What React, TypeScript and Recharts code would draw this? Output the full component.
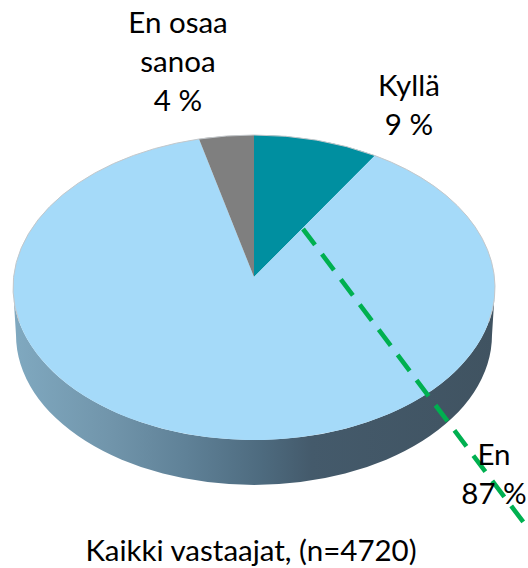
import { Pie, PieChart } from "recharts";

const categories = ["Kyllä", "En", "En osaa sanoa"];
const shares = [9, 87, 4];
const sliceColors = ["#008fa0", "#a5daf9", "#7f7f7f"];
const labelLines = [["Kyllä"], ["En"], ["En osaa", "sanoa"]];
const title = "Kaikki vastaajat, (n=4720)";

const pieData = categories.map((name, i) => ({ name, value: shares[i], fill: sliceColors[i] }));

// hand placed like in the original slide
const labelBoxes = [
  { x: 409, y: 96 },
  { x: 494, y: 465 },
  { x: 178, y: 33 },
];

const SQUASH = 152.5 / 241;
const APEX_LIFT = 10.5;
const DEPTH = 47.5;
const BOTTOM_RX_DIFF = 3;
const PERSPECTIVE = 2.5; // back slices look narrower than their true angle
const FONT = "Lato, 'Open Sans', sans-serif";

function pt(cx: number, cy: number, rx: number, ry: number, deg: number) {
  const fromTop = ((90 - deg) * Math.PI) / 180;
  const a = ((deg + PERSPECTIVE * Math.sin(2 * fromTop)) * Math.PI) / 180;
  return [cx + rx * Math.cos(a), cy - ry * Math.sin(a)];
}

function overlap(start: number, end: number, from: number, to: number) {
  const a = Math.min(start, from);
  const b = Math.max(end, to);
  return a > b ? [a, b] : null;
}

function TopSlice(props: any) {
  const { cx, cy, outerRadius: rx, startAngle, endAngle, fill } = props;
  const ry = rx * SQUASH;
  const [x1, y1] = pt(cx, cy, rx, ry, startAngle);
  const [x2, y2] = pt(cx, cy, rx, ry, endAngle);
  const large = startAngle - endAngle > 180 ? 1 : 0;
  const rims = [overlap(startAngle, endAngle, 90, -12), overlap(startAngle, endAngle, -168, -270)];
  return (
    <g>
      <path d={`M${cx},${cy - APEX_LIFT}L${x1},${y1}A${rx},${ry} 0 ${large} 1 ${x2},${y2}Z`} fill={fill} />
      {rims.map((r, i) => {
        if (!r) return null;
        const [ax, ay] = pt(cx, cy, rx, ry, r[0]);
        const [bx, by] = pt(cx, cy, rx, ry, r[1]);
        return <path key={i} d={`M${ax},${ay}A${rx},${ry} 0 0 1 ${bx},${by}`} fill="none" stroke="#c4c8cb" strokeWidth={1} />;
      })}
    </g>
  );
}

function WallSlice(props: any) {
  const { cx, cy, outerRadius: rx, startAngle, endAngle } = props;
  const front = overlap(startAngle, endAngle, 0, -180);
  if (!front) return null;
  const ry = rx * SQUASH;
  const rx2 = rx - BOTTOM_RX_DIFF;
  const ry2 = ry - 2.5;
  const [x1, y1] = pt(cx, cy, rx, ry, front[0]);
  const [x2, y2] = pt(cx, cy, rx, ry, front[1]);
  const [x3, y3] = pt(cx, cy + DEPTH, rx2, ry2, front[1]);
  const [x4, y4] = pt(cx, cy + DEPTH, rx2, ry2, front[0]);
  return (
    <path
      d={`M${x1},${y1}A${rx},${ry} 0 0 1 ${x2},${y2}L${x3},${y3}A${rx2},${ry2} 0 0 0 ${x4},${y4}Z`}
      fill="url(#wallShade)"
    />
  );
}

function SliceLabel(props: any) {
  const { index, value } = props;
  const box = labelBoxes[index];
  const lines = [...labelLines[index], `${value} %`];
  return (
    <g>
      {/* the green dashes sit over the pie but under the En label, so they go with the first label */}
      {index === 0 && (
        <line x1={303} y1={229} x2={524} y2={523} stroke="#00b050" strokeWidth={4.6} strokeDasharray="20 11.5" />
      )}
      <text x={box.x} y={box.y} textAnchor="middle" fontFamily={FONT} fontSize={29.5} fill="#000">
        {lines.map((line, i) => (
          <tspan key={i} x={box.x} dy={i === 0 ? 0 : 39}>
            {line}
          </tspan>
        ))}
      </text>
    </g>
  );
}

export default function App() {
  const pieProps = {
    data: pieData,
    dataKey: "value",
    nameKey: "name",
    cx: 254,
    cy: 287.5,
    outerRadius: 241,
    startAngle: 90,
    endAngle: -270,
    paddingAngle: 0,
    isAnimationActive: false,
    stroke: "none",
    rootTabIndex: -1,
  };

  return (
    <div style={{ position: "absolute", left: 0, top: 0, width: 528, height: 568, background: "#fff" }}>
      <PieChart width={528} height={568} margin={{ top: 0, right: 0, bottom: 0, left: 0 }}>
        <defs>
          <linearGradient id="wallShade" x1="0" y1="0" x2="1" y2="0">
            <stop offset="0" stopColor="#80a9c0" />
            <stop offset="0.2" stopColor="#7195ab" />
            <stop offset="0.36" stopColor="#5f8197" />
            <stop offset="0.52" stopColor="#4d6a7e" />
            <stop offset="0.62" stopColor="#445a6b" />
            <stop offset="1" stopColor="#405361" />
          </linearGradient>
        </defs>
        <Pie {...pieProps} shape={WallSlice} />
        <Pie {...pieProps} shape={TopSlice} />
        <Pie {...pieProps} shape={() => null} label={SliceLabel} labelLine={false} />
        <text x={251} y={561} textAnchor="middle" fontFamily={FONT} fontSize={29.5} fill="#000">
          {title}
        </text>
      </PieChart>
    </div>
  );
}
